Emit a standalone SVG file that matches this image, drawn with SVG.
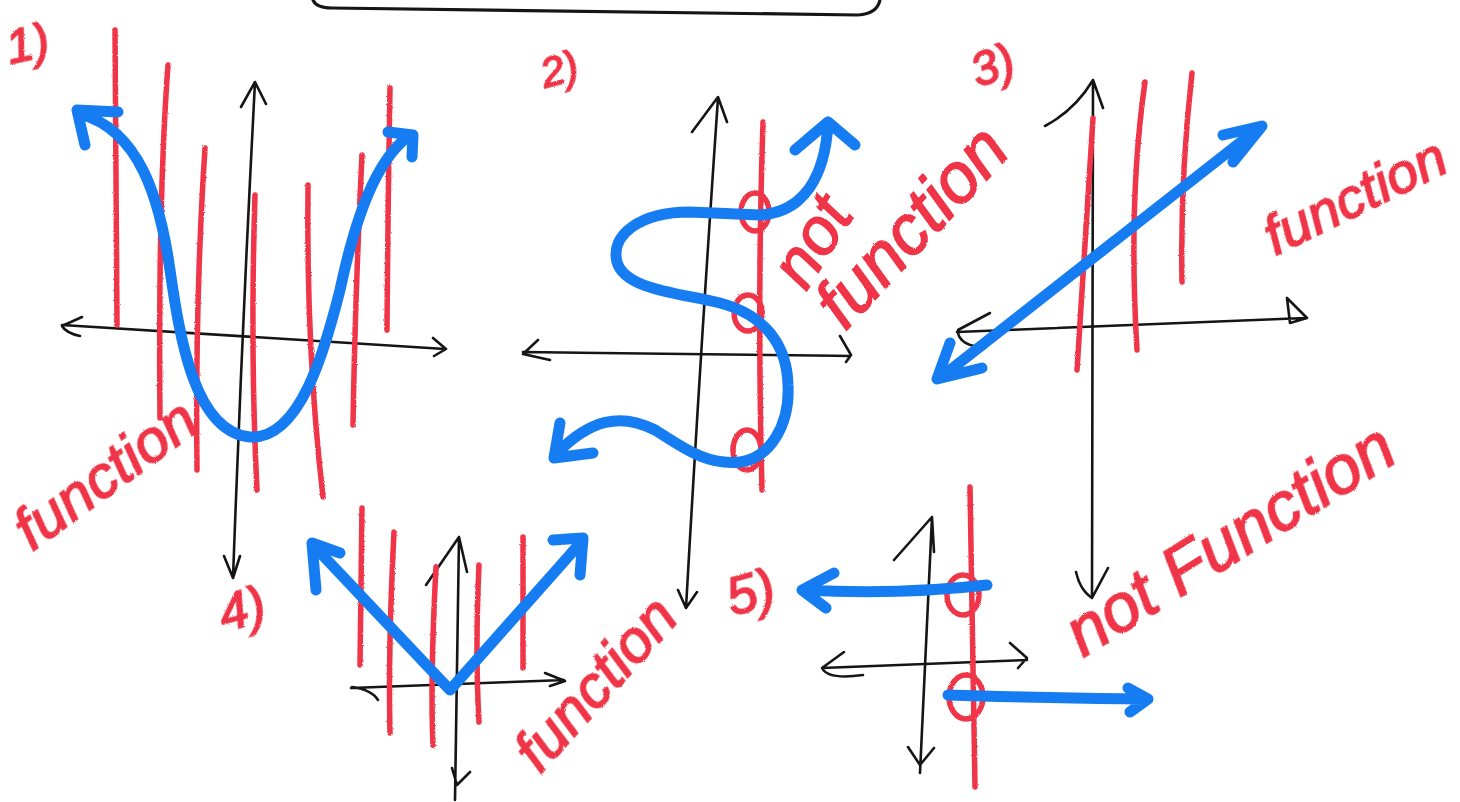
<svg xmlns="http://www.w3.org/2000/svg" width="1460" height="802" viewBox="0 0 1460 802">
<defs>
<filter id="crayon" x="-5%" y="-5%" width="110%" height="110%"><feTurbulence type="fractalNoise" baseFrequency="0.9" numOctaves="1" result="n"/><feDisplacementMap in="SourceGraphic" in2="n" scale="2.5"/></filter>
</defs>
<style>
.ax{fill:none;stroke:#151515;stroke-width:2.6;stroke-linecap:round;stroke-linejoin:round}
.rd{fill:none;stroke:#ef3446;stroke-width:5.5;stroke-linecap:round;stroke-linejoin:round}
.bl{fill:none;stroke:#167cf2;stroke-width:11;stroke-linecap:round;stroke-linejoin:round}
.tx{fill:#ef3446;stroke:#ef3446;stroke-width:1.6;font-family:"Liberation Sans",Arial,sans-serif;font-style:italic;font-weight:normal}
</style>
<rect width="1460" height="802" fill="#ffffff"/>
<g id="topbox"><path class="ax" style="stroke-width:3.2" d="M313,0 Q316,8 332,8 L858,15 Q877,14 880,0"/></g>

<g id="graph1">
<path class="ax" d="M62,325 L445,349 M82,317 L62,326 Q66,333 80,336 M433,338 L446,349 L434,356"/>
<path class="ax" d="M255,82 Q242,330 233,578 M241,107 L255,82 L266,104 M224,556 L233,578 L240,556"/>
<g filter="url(#crayon)">
<path class="rd" d="M115,30 L117,325 M168,65 Q158,200 160,418 M205,148 Q195,300 197,470 M255,195 Q250,350 257,490 M308,185 Q306,350 323,497 M362,155 Q355,300 353,425 M390,88 Q388,200 387,330"/>
<text class="tx" x="32" y="552" font-size="60" transform="rotate(-36 32 552)">function</text>
<text class="tx" x="10" y="64" font-size="48" transform="rotate(-12 10 64)">1)</text>
</g>
<path class="bl" d="M80,114 C140,130 160,200 170,270 C180,340 195,432 250,437 C300,440 325,350 340,290 C355,220 375,160 410,135 M118,112 L77,110 L85,145 M388,132 L413,135 L412,157"/>
</g>

<g id="graph2">
<path class="ax" d="M523,352 L850,356 M538,340 L523,354 L550,360 M840,336 L851,355 L846,362"/>
<path class="ax" d="M718,98 Q700,360 686,608 M692,132 L718,97 L727,122 M678,590 L686,608 L697,592"/>
<g filter="url(#crayon)">
<path class="rd" d="M763,122 Q757,300 762,490"/>
<ellipse class="rd" cx="755" cy="212" rx="14" ry="19"/>
<ellipse class="rd" cx="748" cy="313" rx="14" ry="18"/>
<ellipse class="rd" cx="747" cy="450" rx="14" ry="20"/>
<text class="tx" x="806" y="292" font-size="66" transform="rotate(-58 806 292)">not</text>
<text class="tx" x="845" y="332" font-size="70" transform="rotate(-47 845 332)">function</text>
<text class="tx" x="545" y="88" font-size="42" transform="rotate(-15 545 88)">2)</text>
</g>
<path class="bl" d="M828,124 C825,175 805,212 760,215 L690,212 C640,212 610,235 617,262 C625,290 680,293 720,303 C765,315 787,345 788,385 C790,425 770,458 740,462 C705,466 680,445 655,430 C620,412 590,420 557,453 M795,150 L828,122 L855,145 M560,423 L554,458 L593,453"/>
</g>

<g id="graph3">
<path class="ax" d="M957,332 L1305,318 M990,313 L958,330 Q957,345 985,348 M1287,298 L1307,318 L1290,323 L1287,298"/>
<path class="ax" d="M1093,80 L1092,595 M1045,126 Q1075,110 1093,80 L1103,108 M1076,572 Q1080,590 1092,598 L1108,568"/>
<g filter="url(#crayon)">
<path class="rd" d="M1093,118 Q1085,250 1077,370 M1145,82 Q1128,200 1137,350 M1192,73 Q1180,180 1182,282"/>
<text class="tx" x="1275" y="256" font-size="56" transform="rotate(-26 1275 256)">function</text>
<text class="tx" x="978" y="88" font-size="48" transform="rotate(-20 978 88)">3)</text>
</g>
<path class="bl" d="M940,378 L1260,127 M1223,135 L1262,126 L1233,162 M950,343 L937,379 L982,368"/>
</g>

<g id="graph4">
<path class="ax" d="M351,688 L564,680 M352,687 Q372,690 378,700 M545,673 L565,681 L550,686"/>
<path class="ax" d="M459,537 L455,800 M426,585 L459,537 L467,572 M452,768 L457,785 L470,772"/>
<g filter="url(#crayon)">
<path class="rd" d="M362,508 L360,665 M394,532 Q388,650 390,733 M436,567 Q430,680 433,745 M479,565 Q475,650 479,722 M523,537 L523,668"/>
<text class="tx" x="540" y="775" font-size="60" transform="rotate(-48 540 775)">function</text>
<text class="tx" x="224" y="632" font-size="52" transform="rotate(-15 224 632)">4)</text>
</g>
<path class="bl" d="M313,545 L450,690 L583,540 M340,553 L312,543 L316,590 M553,540 L583,538 L580,575"/>
</g>

<g id="graph5">
<path class="ax" d="M822,668 L1027,660 M844,652 L822,668 Q828,680 863,675 M1010,643 L1027,658 L1018,668"/>
<path class="ax" d="M932,517 L920,773 M894,560 L932,517 L934,552 M908,747 L920,765 L934,748"/>
<g filter="url(#crayon)">
<path class="rd" d="M970,487 L975,787"/>
<ellipse class="rd" cx="963" cy="595" rx="16" ry="20"/>
<ellipse class="rd" cx="966" cy="697" rx="17" ry="22"/>
<text class="tx" x="1083" y="658" font-size="68" transform="rotate(-32 1083 658)">not Function</text>
<text class="tx" x="732" y="616" font-size="54" transform="rotate(-15 732 616)">5)</text>
</g>
<path class="bl" d="M987,585 Q900,595 803,590 M834,573 L802,590 L826,608 M948,695 Q1050,698 1147,699 M1128,688 L1148,699 L1130,712"/>
</g>
</svg>
